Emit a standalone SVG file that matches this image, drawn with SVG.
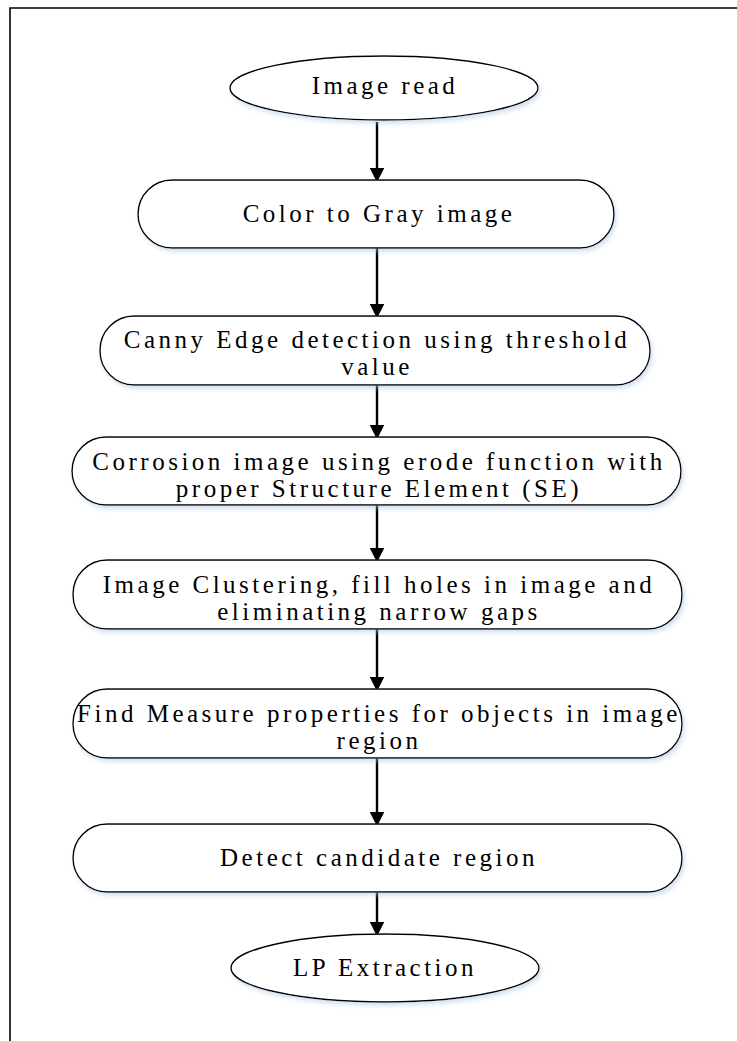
<svg xmlns="http://www.w3.org/2000/svg" width="737" height="1041" viewBox="0 0 737 1041">
<style>
.shape{fill:#ffffff;stroke:#000000;stroke-width:1.4;filter:url(#sh)}
.lbl{font-family:"Liberation Serif","Times New Roman",serif;font-size:25px;letter-spacing:3.5px;fill:#000000;text-anchor:middle}
.conn{stroke:#000000;stroke-width:2.4;fill:none;marker-end:url(#arr)}
</style>
<defs>
<filter id="sh" x="-10%" y="-20%" width="120%" height="150%">
<feDropShadow dx="2" dy="3" stdDeviation="2" flood-color="#a9c3e0" flood-opacity="0.5"/>
</filter>
<marker id="arr" markerWidth="6" markerHeight="6" refX="5" refY="3" orient="auto" markerUnits="strokeWidth">
<path d="M0,0 L6,3 L0,6 Z" fill="#000000"/>
</marker>
</defs>
<rect x="0" y="0" width="737" height="1041" fill="#ffffff"/>
<path d="M10,1041 V8 H737" fill="none" stroke="#000000" stroke-width="1.6"/>
<g id="connectors">
<line class="conn" x1="377" y1="122" x2="377" y2="180"/>
<line class="conn" x1="377" y1="248" x2="377" y2="316"/>
<line class="conn" x1="377" y1="385" x2="377" y2="437"/>
<line class="conn" x1="377" y1="505" x2="377" y2="560"/>
<line class="conn" x1="377" y1="629" x2="377" y2="689"/>
<line class="conn" x1="377" y1="758" x2="377" y2="824"/>
<line class="conn" x1="377" y1="892" x2="377" y2="934"/>
</g>
<g id="n1"><ellipse class="shape" cx="384" cy="88" rx="154" ry="32"/><text class="lbl" x="385" y="94">Image read</text></g>
<g id="n2"><rect class="shape" x="138" y="180" width="476" height="68" rx="34"/><text class="lbl" x="379" y="222">Color to Gray image</text></g>
<g id="n3"><rect class="shape" x="100" y="316" width="550" height="69" rx="34"/><text class="lbl" x="377" y="348">Canny Edge detection using threshold</text><text class="lbl" x="377" y="375">value</text></g>
<g id="n4"><rect class="shape" x="72" y="437" width="609" height="68" rx="34"/><text class="lbl" x="379" y="470">Corrosion image using erode function with</text><text class="lbl" x="379" y="497">proper Structure Element (SE)</text></g>
<g id="n5"><rect class="shape" x="73" y="560" width="609" height="69" rx="34"/><text class="lbl" x="379" y="593">Image Clustering, fill holes in image and</text><text class="lbl" x="379" y="620">eliminating narrow gaps</text></g>
<g id="n6"><rect class="shape" x="73" y="689" width="609" height="69" rx="34"/><text class="lbl" x="379" y="722">Find Measure properties for objects in image</text><text class="lbl" x="379" y="749">region</text></g>
<g id="n7"><rect class="shape" x="73" y="824" width="609" height="68" rx="34"/><text class="lbl" x="379" y="866">Detect candidate region</text></g>
<g id="n8"><ellipse class="shape" cx="385" cy="968" rx="154" ry="34"/><text class="lbl" x="385" y="976">LP Extraction</text></g>
</svg>
